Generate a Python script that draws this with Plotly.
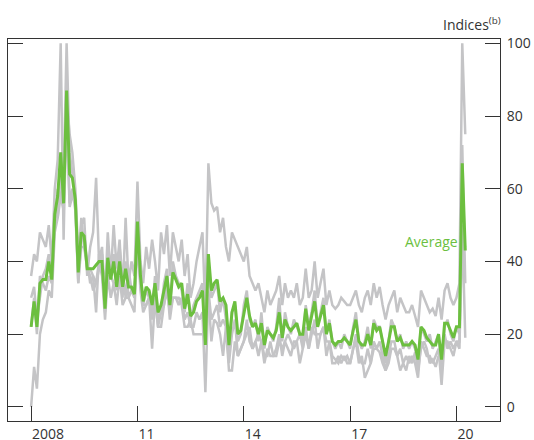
import pandas as pd
import plotly.graph_objects as go

# Monthly data, Jan 2008 - Apr 2020
average = [
    22, 29, 22, 34, 35, 35, 40, 35, 53, 58, 70, 56,
    87, 64, 63, 57, 37, 48, 47, 38, 38, 38, 39, 40,
    40, 27, 41, 35, 40, 33, 40, 33, 38, 33, 33, 31,
    51, 36, 29, 33, 32, 28, 34, 26, 28, 32, 36, 28,
    37, 35, 33, 34, 27, 31, 25, 26, 29, 30, 32, 17,
    42, 32, 34, 35, 29, 30, 28, 17, 26, 29, 20, 21,
    26, 30, 25, 22, 23, 20, 23, 17, 21, 20, 19, 21,
    26, 19, 24, 22, 21, 22, 23, 20, 20, 27, 21, 25,
    29, 22, 25, 28, 20, 23, 18, 17, 18, 18, 19, 18,
    17, 21, 24, 18, 17, 17, 20, 17, 23, 21, 22, 18,
    14, 18, 22, 22, 18, 19, 17, 17, 17, 18, 17, 13,
    22, 21, 19, 18, 17, 17, 20, 13, 23, 23, 21, 19,
    22, 22, 67, 43,
]

index_a = [
    36, 42, 40, 48, 46, 44, 50, 40, 60, 68, 100, 46,
    85, 75, 70, 60, 42, 50, 52, 36, 44, 48, 63, 40,
    44, 30, 48, 36, 50, 38, 46, 30, 52, 34, 40, 36,
    62, 40, 34, 44, 38, 46, 40, 32, 48, 42, 50, 36,
    48, 44, 40, 46, 36, 42, 30, 34, 40, 44, 48, 26,
    67, 56, 54, 55, 48, 52, 44, 40, 48, 46, 44, 42,
    40, 44, 36, 34, 32, 34, 30, 26, 32, 28, 30, 32,
    36, 28, 34, 30, 32, 30, 34, 28, 30, 38, 30, 32,
    40, 30, 34, 38, 28, 32, 28, 27, 28, 30, 29, 28,
    28, 30, 32, 28, 26, 30, 32, 28, 34, 30, 33, 28,
    24, 28, 30, 32, 26, 30, 28, 26, 26, 28, 25, 22,
    32, 30, 28, 26, 27, 25, 30, 24, 32, 34, 30, 28,
    30, 34, 100, 75,
]

index_b = [
    30, 33, 24, 30, 36, 38, 42, 36, 50, 60, 58, 62,
    100, 70, 64, 58, 38, 52, 44, 40, 34, 36, 34, 38,
    42, 26, 44, 38, 42, 32, 44, 36, 40, 30, 32, 30,
    50, 38, 28, 32, 30, 26, 36, 24, 26, 34, 38, 26,
    40, 36, 34, 32, 26, 34, 24, 28, 30, 32, 34, 18,
    38, 30, 32, 34, 26, 30, 24, 16, 26, 28, 18, 20,
    28, 32, 24, 22, 24, 18, 26, 16, 22, 20, 18, 22,
    30, 18, 26, 22, 20, 24, 22, 20, 18, 28, 22, 26,
    32, 22, 26, 30, 20, 24, 18, 16, 18, 16, 20, 18,
    16, 22, 26, 18, 16, 18, 22, 16, 24, 22, 22, 18,
    12, 18, 24, 22, 18, 20, 16, 18, 16, 18, 16, 12,
    22, 20, 18, 20, 16, 18, 20, 10, 22, 24, 20, 18,
    22, 20, 72, 34,
]

index_c = [
    0, 11, 5, 20, 24, 26, 32, 30, 48, 52, 58, 54,
    80, 55, 58, 56, 34, 46, 48, 38, 36, 32, 34, 40,
    36, 24, 36, 30, 34, 28, 36, 28, 30, 30, 28, 26,
    46, 32, 26, 28, 30, 24, 30, 22, 26, 28, 32, 26,
    30, 30, 28, 30, 24, 26, 22, 22, 26, 24, 26, 4,
    32, 24, 26, 28, 22, 24, 22, 12, 20, 24, 14, 16,
    18, 24, 18, 16, 18, 14, 18, 12, 16, 14, 14, 16,
    20, 14, 18, 16, 14, 18, 18, 12, 16, 20, 16, 20,
    24, 16, 20, 22, 14, 18, 12, 12, 14, 12, 14, 12,
    12, 16, 20, 14, 12, 12, 16, 12, 18, 16, 18, 14,
    10, 14, 18, 18, 14, 16, 12, 14, 12, 14, 12, 8,
    18, 16, 14, 14, 12, 14, 16, 6, 18, 18, 16, 14,
    18, 16, 50, 19,
]

index_d = [
    22, 30, 20, 36, 34, 32, 36, 34, 54, 52, 64, 62,
    84, 56, 60, 54, 34, 44, 44, 38, 38, 36, 26, 42,
    38, 28, 36, 36, 34, 34, 34, 38, 30, 38, 32, 32,
    46, 34, 28, 28, 30, 16, 30, 22, 22, 28, 34, 24,
    30, 30, 30, 28, 22, 22, 24, 20, 20, 20, 20, 20,
    31, 18, 24, 23, 20, 14, 22, 10, 10, 18, 14, 16,
    18, 20, 22, 16, 18, 20, 18, 14, 14, 18, 14, 14,
    18, 16, 18, 20, 18, 16, 18, 20, 16, 22, 16, 22,
    20, 20, 20, 22, 18, 18, 14, 13, 12, 14, 13, 14,
    12, 16, 18, 12, 14, 8, 10, 12, 16, 16, 15, 12,
    10, 12, 16, 16, 14, 10, 12, 10, 14, 12, 15, 10,
    16, 18, 16, 12, 13, 11, 14, 12, 20, 16, 18, 16,
    18, 18, 46, 44,
]

x_tick_dates = ["2008-01-01", "2011-01-01", "2014-01-01", "2017-01-01", "2020-01-01"]
x_tick_labels = ["2008", "11", "14", "17", "20"]
y_tick_values = [0, 20, 40, 60, 80, 100]

dates = pd.date_range("2008-01-01", periods=len(average), freq="MS")

GREY = "#c4c4c6"
GREEN = "#6cbf3f"
AXIS = "#333333"
FONT = "Open Sans"

fig = go.Figure()
for series in (index_a, index_b, index_c, index_d):
    fig.add_trace(go.Scatter(x=dates, y=series, mode="lines",
                             line=dict(color=GREY, width=2.5), showlegend=False,
                             hoverinfo="skip"))
fig.add_trace(go.Scatter(x=dates, y=average, mode="lines",
                         line=dict(color=GREEN, width=3), showlegend=False))

fig.update_layout(
    width=534, height=440,
    margin=dict(l=8, r=34, t=39, b=19),
    paper_bgcolor="white", plot_bgcolor="white",
    font=dict(family=FONT, size=14, color=AXIS),
    xaxis=dict(
        type="date",
        range=["2007-05-08", "2021-03-25"],
        tickvals=x_tick_dates, ticktext=x_tick_labels,
        ticks="inside", ticklen=15, tickwidth=1, tickcolor=AXIS,
        ticklabelposition="outside right",
        showline=True, linecolor=AXIS, linewidth=1, mirror=True,
        showgrid=False, zeroline=False, automargin=False,
    ),
    yaxis=dict(
        range=[-3.9, 101.2], side="right",
        tickvals=y_tick_values,
        ticks="inside", ticklen=15, tickwidth=1, tickcolor=AXIS,
        showline=True, linecolor=AXIS, linewidth=1, mirror="ticks",
        showgrid=False, zeroline=False, automargin=False,
        ticklabelstandoff=3,
    ),
    annotations=[
        dict(text="Indices<sup>(b)</sup>", xref="paper", yref="paper",
             x=1.0, y=1.0, xanchor="right", yanchor="bottom", xshift=3, yshift=3,
             showarrow=False, font=dict(family=FONT, size=14, color=AXIS)),
        dict(text="Average", xref="x", yref="y", x="2020-01-01", y=45.6,
             xanchor="right", yanchor="middle", xshift=4, showarrow=False,
             font=dict(family=FONT, size=14, color=GREEN)),
    ],
)

# Remove the default page margin so the figure fills the window exactly.
fig.write_html(
    "out.html",
    config={"displayModeBar": False},
    post_script="document.body.style.margin='0';document.body.style.overflow='hidden';",
)
